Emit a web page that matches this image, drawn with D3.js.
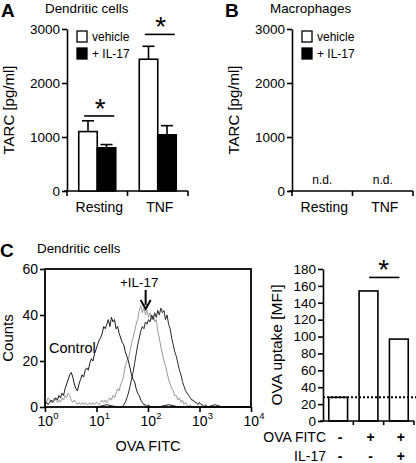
<!DOCTYPE html>
<html><head><meta charset="utf-8">
<script src="https://cdn.jsdelivr.net/npm/d3@7"></script>
<style>
body{margin:0;background:#fff;}
svg text{font-family:"Liberation Sans",Arial,Helvetica,sans-serif;fill:#000;}
</style></head>
<body><svg id="c" width="416" height="463"></svg>
<script>
// ---------- DATA ----------
const tarcCategories = ["Resting", "TNF"];
const tarcSeries = ["vehicle", "+ IL-17"];
const dcMeans = [[1100, 800], [2440, 1040]];
const dcErrors = [[200, 60], [240, 170]];
const dcSigLevels = [1390, 2900];
const tarcTicks = [0, 1000, 2000, 3000];
const macLabels = ["n.d.", "n.d."];

const histXTicks = [1, 10, 100, 1000, 10000];
const histYTicks = [0, 20, 40, 60];
// [log10 fluorescence, counts]
const controlHist = [[0.00,1],[0.03,2],[0.06,1],[0.09,2],[0.12,3],[0.15,2],[0.18,3],[0.21,4],[0.24,3],[0.27,5],[0.30,4],[0.33,6],[0.36,5],[0.39,8],[0.42,10],[0.45,12],[0.48,14],[0.51,15],[0.54,13],[0.57,10],[0.60,8],[0.63,7],[0.66,10],[0.69,12],[0.72,14],[0.75,13],[0.78,16],[0.81,17],[0.84,16],[0.87,19],[0.90,21],[0.93,20],[0.96,23],[0.99,25],[1.02,27],[1.05,29],[1.08,30],[1.11,32],[1.14,35],[1.17,34],[1.20,36],[1.23,38],[1.26,35],[1.29,39],[1.32,37],[1.35,38],[1.38,34],[1.41,35],[1.44,32],[1.47,30],[1.50,28],[1.53,27],[1.56,24],[1.59,22],[1.62,20],[1.65,17],[1.68,14],[1.71,12],[1.74,11],[1.77,8],[1.80,6],[1.83,5],[1.86,3],[1.89,2],[1.92,1],[1.95,1],[1.98,0],[2.01,1],[2.04,0],[2.20,0],[2.40,1],[2.60,0],[3.00,0],[3.40,0],[4.00,0]];
const il17Hist = [[0.00,3],[0.03,2],[0.06,4],[0.09,3],[0.12,2],[0.15,3],[0.18,4],[0.21,3],[0.24,2],[0.27,3],[0.30,2],[0.33,4],[0.36,3],[0.39,5],[0.42,4],[0.45,6],[0.48,5],[0.51,3],[0.54,2],[0.57,3],[0.60,2],[0.63,1],[0.66,2],[0.69,1],[0.72,2],[0.75,1],[0.78,2],[0.81,1],[0.84,1],[0.87,2],[0.90,1],[0.93,2],[0.96,1],[0.99,2],[1.02,2],[1.05,1],[1.08,2],[1.11,3],[1.14,2],[1.17,3],[1.20,2],[1.23,3],[1.26,4],[1.29,3],[1.32,5],[1.35,4],[1.38,6],[1.41,8],[1.44,7],[1.47,10],[1.50,11],[1.53,14],[1.56,18],[1.59,20],[1.62,21],[1.65,24],[1.68,28],[1.71,30],[1.74,33],[1.77,36],[1.80,38],[1.83,42],[1.86,44],[1.89,41],[1.92,43],[1.95,40],[1.98,42],[2.01,39],[2.04,41],[2.07,38],[2.10,40],[2.13,37],[2.16,38],[2.19,33],[2.22,30],[2.25,26],[2.28,23],[2.31,20],[2.34,18],[2.37,15],[2.40,12],[2.43,10],[2.46,8],[2.49,7],[2.52,5],[2.55,5],[2.58,3],[2.61,4],[2.64,2],[2.67,3],[2.70,1],[2.73,2],[2.76,1],[2.79,0],[2.82,1],[2.85,0],[3.20,0],[3.60,0],[4.00,0]];
const ovaHist = [[1.00,0],[1.20,1],[1.40,0],[1.50,0],[1.53,1],[1.56,2],[1.59,4],[1.62,6],[1.65,9],[1.68,12],[1.71,15],[1.74,19],[1.77,23],[1.80,27],[1.83,30],[1.86,33],[1.89,35],[1.92,34],[1.95,37],[1.98,36],[2.01,38],[2.04,37],[2.07,40],[2.10,38],[2.13,41],[2.16,39],[2.19,42],[2.22,40],[2.25,43],[2.28,41],[2.31,42],[2.34,38],[2.37,40],[2.40,36],[2.43,34],[2.46,30],[2.49,27],[2.52,24],[2.55,22],[2.58,19],[2.61,16],[2.64,14],[2.67,11],[2.70,9],[2.73,7],[2.76,6],[2.79,5],[2.82,4],[2.85,3],[2.88,3],[2.91,2],[2.94,2],[2.97,1],[3.00,2],[3.03,1],[3.06,1],[3.09,0],[3.12,1],[3.15,0],[3.30,1],[3.45,0],[3.70,0],[4.00,0]];

const mfiConditions = ["control", "ova", "ova+il17"];
const mfiValues = [28, 154, 97];
const mfiBackground = 28;
const mfiSigLevel = 170;
const mfiTicks = [0,20,40,60,80,100,120,140,160,180];
const rowOva = ["-", "+", "+"];
const rowIl17 = ["-", "-", "+"];

// ---------- DRAW ----------
const svg = d3.select("#c");
svg.append("rect").attr("width",416).attr("height",463).attr("fill","#fff");
const lw = 1.6;

function txt(x,y,s,size,anchor,weight){
  return svg.append("text").attr("x",x).attr("y",y).text(s)
    .attr("font-size",size).attr("text-anchor",anchor||"start").attr("font-weight",weight||"normal");
}
function star(g,x,lineY){
  g.append("text").attr("x",x).attr("y",lineY+2).attr("text-anchor","middle").attr("font-size",28).text("*");
}

function tarcPanel(x0, x1, letter, letterX, title, titleX, withBars){
  const y = d3.scaleLinear().domain([0,3000]).range([191,29]);
  const xb = d3.scaleBand().domain(tarcCategories).range([x0,x1]);
  const xs = d3.scaleBand().domain(tarcSeries).range([-18.5,18.5]);
  const g = svg.append("g");
  const ya = g.append("g").attr("transform",`translate(${x0},0)`)
    .call(d3.axisLeft(y).tickValues(tarcTicks).tickFormat(d3.format("d")).tickSize(5).tickSizeOuter(0).tickPadding(2));
  ya.select(".domain").attr("stroke-width",lw);
  ya.selectAll(".tick line").attr("stroke-width",lw);
  ya.selectAll("text").attr("font-size",13.5).attr("font-family",null);
  const bounds = [x0, x0 + xb.bandwidth(), x1];
  g.append("line").attr("x1",x0-3).attr("x2",x1).attr("y1",y(0)).attr("y2",y(0)).attr("stroke","#000").attr("stroke-width",lw);
  g.selectAll(".bt").data(bounds).join("line").attr("x1",d=>d).attr("x2",d=>d)
    .attr("y1",y(0)).attr("y2",y(0)+5).attr("stroke","#000").attr("stroke-width",lw);
  g.selectAll(".cl").data(tarcCategories).join("text")
    .attr("x",d=>xb(d)+xb.bandwidth()/2+2).attr("y",212).attr("text-anchor","middle")
    .attr("font-size",14).text(d=>d);
  g.append("text").attr("transform",`translate(${x0-53},${y(1500)}) rotate(-90)`)
    .attr("text-anchor","middle").attr("font-size",15).text("TARC [pg/ml]");
  txt(letterX,17,letter,19,"start","bold");
  txt(titleX,13,title,13.4);
  const lx = x0 + 10;
  tarcSeries.forEach((s,i)=>{
    g.append("rect").attr("x",lx).attr("y",31+i*17).attr("width",10).attr("height",11)
      .attr("fill", i? "#000":"#fff").attr("stroke","#000").attr("stroke-width",1.3);
    g.append("text").attr("x",lx+15).attr("y",41+i*17).attr("font-size",12).text(s);
  });
  if(withBars){
    tarcCategories.forEach((c,ci)=>{
      const cx = xb(c)+xb.bandwidth()/2;
      tarcSeries.forEach((s,si)=>{
        const v = dcMeans[ci][si], e = dcErrors[ci][si];
        const bx = cx + xs(s);
        g.append("rect").attr("x",bx).attr("y",y(v)).attr("width",xs.bandwidth()).attr("height",y(0)-y(v))
          .attr("fill", si? "#000":"#fff").attr("stroke","#000").attr("stroke-width",lw);
        const mx = bx + xs.bandwidth()/2;
        g.append("line").attr("x1",mx).attr("x2",mx).attr("y1",y(v)).attr("y2",y(v+e)).attr("stroke","#000").attr("stroke-width",lw);
        g.append("line").attr("x1",mx-6).attr("x2",mx+6).attr("y1",y(v+e)).attr("y2",y(v+e)).attr("stroke","#000").attr("stroke-width",lw);
      });
      const ly = y(dcSigLevels[ci]);
      g.append("line").attr("x1",cx-13).attr("x2",cx+17).attr("y1",ly).attr("y2",ly).attr("stroke","#000").attr("stroke-width",lw);
      star(g,cx+3,ly);
    });
  } else {
    tarcCategories.forEach((c,ci)=>{
      g.append("text").attr("x",xb(c)+xb.bandwidth()/2).attr("y",184).attr("text-anchor","middle")
        .attr("font-size",12).text(macLabels[ci]);
    });
  }
}
tarcPanel(67, 188, "A", 1, "Dendritic cells", 45, true);
tarcPanel(292, 413, "B", 225, "Macrophages", 270, false);

// ---------- Panel C histogram ----------
txt(0,257,"C",19,"start","bold");
txt(37,253,"Dendritic cells",13.4);
const hx = d3.scaleLog().domain([1,10000]).range([45,251]);
const hy = d3.scaleLinear().domain([0,60]).range([407,269]);
const hg = svg.append("g");
const lineGen = d3.line().x(d=>hx(Math.pow(10,d[0]))).y(d=>hy(d[1]));
hg.append("path").datum(il17Hist).attr("d",lineGen).attr("fill","none").attr("stroke","#9a9a9a").attr("stroke-width",1);
hg.append("path").datum(ovaHist).attr("d",lineGen).attr("fill","none").attr("stroke","#2a2a2a").attr("stroke-width",1);
hg.append("path").datum(controlHist).attr("d",lineGen).attr("fill","none").attr("stroke","#1a1a1a").attr("stroke-width",1);
hg.append("rect").attr("x",hx(1)).attr("y",hy(60)).attr("width",hx(10000)-hx(1)).attr("height",hy(0)-hy(60))
  .attr("fill","none").attr("stroke","#000").attr("stroke-width",1.8);
const hya = hg.append("g").attr("transform",`translate(${hx(1)},0)`)
  .call(d3.axisLeft(hy).tickValues(histYTicks).tickSize(5).tickSizeOuter(0).tickPadding(2));
hya.select(".domain").remove();
hya.selectAll(".tick line").attr("stroke-width",lw);
hya.selectAll("text").attr("font-size",14).attr("font-family",null);
const hxa = hg.append("g").attr("transform",`translate(0,${hy(0)})`)
  .call(d3.axisBottom(hx).tickValues(histXTicks).tickSize(5).tickSizeOuter(0).tickFormat(""));
hxa.select(".domain").remove();
hxa.selectAll(".tick line").attr("stroke-width",lw);
histXTicks.forEach(v=>{
  const t = hg.append("text").attr("x",hx(v)+3).attr("y",426).attr("text-anchor","middle").attr("font-size",14);
  t.append("tspan").text("10");
  t.append("tspan").attr("dy",-7).attr("font-size",9.5).text(Math.round(Math.log10(v)));
});
hg.append("text").attr("x",148).attr("y",451).attr("text-anchor","middle").attr("font-size",14.5).text("OVA FITC");
hg.append("text").attr("transform",`translate(13,${hy(30)}) rotate(-90)`).attr("text-anchor","middle").attr("font-size",15).text("Counts");
hg.append("text").attr("x",49).attr("y",353).attr("font-size",14.5).text("Control");
hg.append("text").attr("x",120).attr("y",287).attr("font-size",13.4).text("+IL-17");
const ax = hx(90);
hg.append("line").attr("x1",ax).attr("x2",ax).attr("y1",290).attr("y2",305).attr("stroke","#000").attr("stroke-width",2);
hg.append("path").attr("d",`M${ax-5},300 L${ax},309 L${ax+5},300`).attr("fill","none").attr("stroke","#000").attr("stroke-width",2);

// ---------- Panel C bars ----------
const my = d3.scaleLinear().domain([0,180]).range([421,269]);
const mx = d3.scaleBand().domain(mfiConditions).range([323,414]).paddingInner(0.38).paddingOuter(0.19);
const mg = svg.append("g");
mg.selectAll(".mb").data(mfiConditions).join("rect")
  .attr("x",d=>mx(d)).attr("width",mx.bandwidth())
  .attr("y",(d,i)=>my(mfiValues[i])).attr("height",(d,i)=>my(0)-my(mfiValues[i]))
  .attr("fill","#fff").attr("stroke","#000").attr("stroke-width",lw);
mg.append("line").attr("x1",323).attr("x2",416).attr("y1",my(mfiBackground)).attr("y2",my(mfiBackground))
  .attr("stroke","#000").attr("stroke-width",2).attr("stroke-dasharray","2,2");
const mya = mg.append("g").attr("transform","translate(323,0)")
  .call(d3.axisLeft(my).tickValues(mfiTicks).tickSize(5).tickSizeOuter(0).tickPadding(2));
mya.select(".domain").attr("stroke-width",lw);
mya.selectAll(".tick line").attr("stroke-width",lw);
mya.selectAll("text").attr("font-size",13.5).attr("font-family",null);
const step = (414-323)/3;
mg.append("line").attr("x1",320).attr("x2",414).attr("y1",my(0)).attr("y2",my(0)).attr("stroke","#000").attr("stroke-width",lw);
[1,2,3].forEach(k=>{
  mg.append("line").attr("x1",323+k*step).attr("x2",323+k*step).attr("y1",my(0)).attr("y2",my(0)+4).attr("stroke","#000").attr("stroke-width",lw);
});
mg.append("text").attr("transform",`translate(282,${my(90)}) rotate(-90)`).attr("text-anchor","middle").attr("font-size",15.5).text("OVA uptake [MFI]");
const sy = my(mfiSigLevel);
mg.append("line").attr("x1",mx("ova")+10).attr("x2",mx("ova+il17")+10).attr("y1",sy).attr("y2",sy).attr("stroke","#000").attr("stroke-width",lw);
star(mg,(mx("ova")+mx("ova+il17"))/2+mx.bandwidth()/2, sy);
mg.append("text").attr("x",326).attr("y",442).attr("text-anchor","end").attr("font-size",14).text("OVA FITC");
mg.append("text").attr("x",326).attr("y",461).attr("text-anchor","end").attr("font-size",14).text("IL-17");
mfiConditions.forEach((c,i)=>{
  const cx = mx(c)+mx.bandwidth()/2;
  mg.append("text").attr("x",cx+2).attr("y",442).attr("text-anchor","middle").attr("font-size",14).attr("font-weight","bold").text(rowOva[i]);
  mg.append("text").attr("x",cx+2).attr("y",461).attr("text-anchor","middle").attr("font-size",14).attr("font-weight","bold").text(rowIl17[i]);
});
</script></body></html>
